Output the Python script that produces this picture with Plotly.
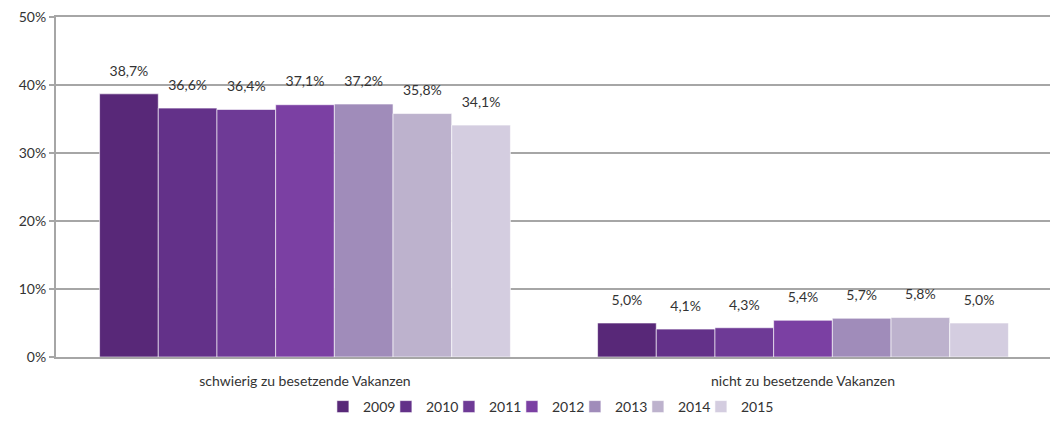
import plotly.graph_objects as go

categories = ["schwierig zu besetzende Vakanzen", "nicht zu besetzende Vakanzen"]
years = ["2009", "2010", "2011", "2012", "2013", "2014", "2015"]
values_2009 = [38.7, 5.0]
values_2010 = [36.6, 4.1]
values_2011 = [36.4, 4.3]
values_2012 = [37.1, 5.4]
values_2013 = [37.2, 5.7]
values_2014 = [35.8, 5.8]
values_2015 = [34.1, 5.0]
series = [values_2009, values_2010, values_2011, values_2012, values_2013, values_2014, values_2015]
y_ticks = [0, 10, 20, 30, 40, 50]
y_tick_labels = ["0%", "10%", "20%", "30%", "40%", "50%"]
colors = ["#582878", "#633189", "#6e3a96", "#7b40a3", "#a08cba", "#bdb2cd", "#d4cde0"]

font_family = "Lato, 'Open Sans', sans-serif"
text_color = "#333333"
grey = "#a6a6a6"

fig = go.Figure()
for year, vals, col in zip(years, series, colors):
    fig.add_trace(go.Bar(
        x=categories,
        y=vals,
        name=year,
        offsetgroup=year,
        marker=dict(color=col, line=dict(color="rgba(255,255,255,0.6)", width=1)),
        hovertemplate="%{x}<br>" + year + ": %{y:.1f}%<extra></extra>",
    ))

# empty legend entry at the end so the last legend label isn't clipped
fig.add_trace(go.Bar(
    x=categories, y=[None, None], name="", offsetgroup=years[-1],
    marker=dict(color="rgba(0,0,0,0)", line=dict(width=0, color="rgba(0,0,0,0)")),
    hoverinfo="skip",
))

# value labels as grouped scatter text, so they sit a bit higher above the bars
for year, vals in zip(years, series):
    fig.add_trace(go.Scatter(
        x=categories,
        y=vals,
        offsetgroup=year,
        mode="markers+text",
        marker=dict(size=22, color="rgba(0,0,0,0)"),
        text=[f"{v:.1f}%".replace(".", ",") for v in vals],
        textposition="top center",
        textfont=dict(size=14, color=text_color, family=font_family),
        showlegend=False,
        hoverinfo="skip",
        cliponaxis=False,
    ))

# page body has an 8px margin, so the figure is a bit smaller than the window
fig.update_layout(
    width=1050,
    height=418,
    barmode="group",
    bargap=0.175,
    bargroupgap=0,
    scattermode="group",
    scattergap=0.175,
    plot_bgcolor="white",
    paper_bgcolor="white",
    margin=dict(l=48, r=6, t=9, b=69, autoexpand=False),
    font=dict(family=font_family, size=14, color=text_color),
    legend=dict(
        orientation="h",
        x=0.521, xanchor="center",
        y=-0.10, yanchor="top",
        font=dict(size=14, color=text_color),
        itemwidth=30,
        entrywidth=18,
        entrywidthmode="pixels",
        traceorder="normal",
    ),
    xaxis=dict(
        showline=True, linecolor=grey, linewidth=2, mirror=True,
        ticks="outside", tickcolor="rgba(0,0,0,0)", ticklen=10,
        showgrid=False, automargin=False,
        tickfont=dict(size=14, color=text_color),
    ),
    yaxis=dict(
        range=[0, 50], tickmode="array", tickvals=y_ticks, ticktext=y_tick_labels,
        showline=True, linecolor=grey, linewidth=2,
        showgrid=True, gridcolor=grey, gridwidth=2,
        ticks="outside", tickcolor=grey, ticklen=5, tickwidth=2,
        ticklabeloverflow="allow",
        tickfont=dict(size=14, color=text_color),
        zeroline=False, automargin=False,
    ),
    showlegend=True,
)

fig.write_html("out.html")
